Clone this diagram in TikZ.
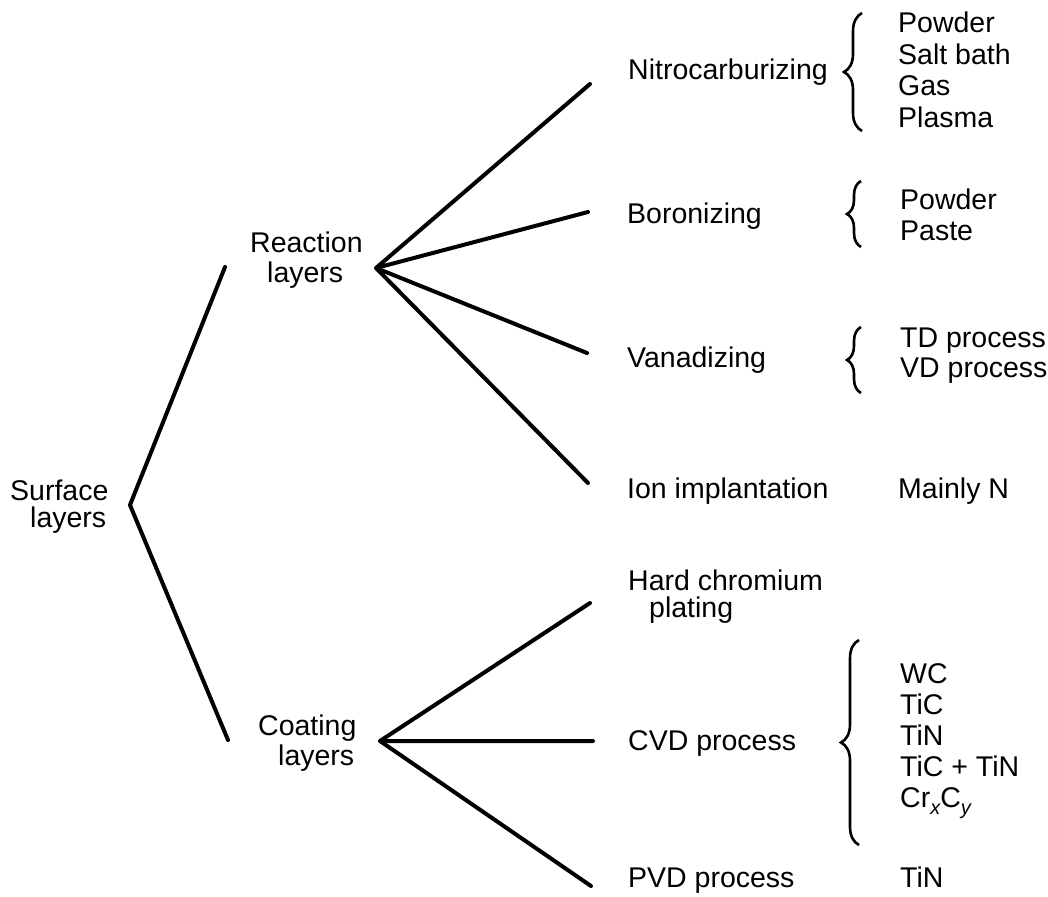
\documentclass[tikz,border=0pt]{standalone}
\usepackage{fontspec}
\setmainfont{Liberation Sans}
\usetikzlibrary{decorations.pathreplacing}
\begin{document}
\begin{tikzpicture}[x=1pt,y=-1pt,
  lbl/.style={anchor=base west,inner sep=0pt,font=\fontsize{28.5}{31}\selectfont},
  branch/.style={line width=4pt,line cap=round,line join=round},
  curly/.style={line width=2.6pt,decorate,decoration={brace,amplitude=18pt,aspect=0.5}}]
\useasboundingbox (0,0) rectangle (1048,896);

% ---- level 0
\node[lbl] (surf1) at (10,500) {Surface};
\node[lbl] (surf2) at (30,527) {layers};

% ---- level 1
\node[lbl] (reac1) at (250,252) {Reaction};
\node[lbl] (reac2) at (267,282) {layers};
\node[lbl] (coat1) at (258,735) {Coating};
\node[lbl] (coat2) at (278,765) {layers};

% ---- level 2: reaction layers
\node[lbl] (nitro) at (628,80) {Nitrocarburizing};
\node[lbl] (boro)  at (627,223) {Boronizing};
\node[lbl] (vana)  at (627,367) {Vanadizing};
\node[lbl] (ion)   at (627,498) {Ion implantation};

% ---- level 2: coating layers
\node[lbl] (hard1) at (628,590) {Hard chromium};
\node[lbl] (hard2) at (649,617) {plating};
\node[lbl] (cvd)   at (628,750) {CVD process};
\node[lbl] (pvd)   at (628,887) {PVD process};

% ---- level 3: variants
\node[lbl] (n1) at (898,33)    {Powder};
\node[lbl] (n2) at (898,64.5)  {Salt bath};
\node[lbl] (n3) at (898,96)    {Gas};
\node[lbl] (n4) at (898,127.5) {Plasma};

\node[lbl] (b1) at (900,209) {Powder};
\node[lbl] (b2) at (900,240) {Paste};

\node[lbl] (v1) at (900,347) {TD process};
\node[lbl] (v2) at (900,377) {VD process};

\node[lbl] (i1) at (898,498) {Mainly N};

\node[lbl] (c1) at (900,683) {WC};
\node[lbl] (c2) at (900,714) {TiC};
\node[lbl] (c3) at (900,745) {TiN};
\node[lbl] (c4) at (900,776) {TiC + TiN};
\node[lbl] (c5) at (900,807) {Cr\raisebox{-0.28em}{\fontsize{20}{20}\selectfont\itshape x}C\raisebox{-0.28em}{\fontsize{20}{20}\selectfont\itshape y}};

\node[lbl] (p1) at (900,887) {TiN};

% ---- branch points and line ends
\coordinate (sv) at (130,505);
\coordinate (sr) at (225,267);
\coordinate (sc) at (228,740);

\coordinate (rv) at (376,268);
\coordinate (rn) at (590,84);
\coordinate (rb) at (588,212);
\coordinate (ra) at (587,353);
\coordinate (ri) at (588,483);

\coordinate (cv) at (380,741);
\coordinate (ch) at (590,603);
\coordinate (cc) at (593,741);
\coordinate (cp) at (591,886);

% ---- tree lines
\draw[branch] (sr) -- (sv) -- (sc);
\draw[branch] (rn) -- (rv) -- (rb);
\draw[branch] (ra) -- (rv) -- (ri);
\draw[branch] (ch) -- (cv) -- (cc);
\draw[branch] (cv) -- (cp);

% ---- braces
\coordinate (nb1) at (862,131); \coordinate (nb2) at (862,13);
\coordinate (bb1) at (861,247); \coordinate (bb2) at (861,181);
\coordinate (vb1) at (861,393); \coordinate (vb2) at (861,327);
\coordinate (cb1) at (859,845); \coordinate (cb2) at (859,640);
\draw[curly] (nb1) -- (nb2);
\draw[curly,decoration={amplitude=14pt}] (bb1) -- (bb2);
\draw[curly,decoration={amplitude=14pt}] (vb1) -- (vb2);
\draw[curly] (cb1) -- (cb2);
\end{tikzpicture}
\end{document}
